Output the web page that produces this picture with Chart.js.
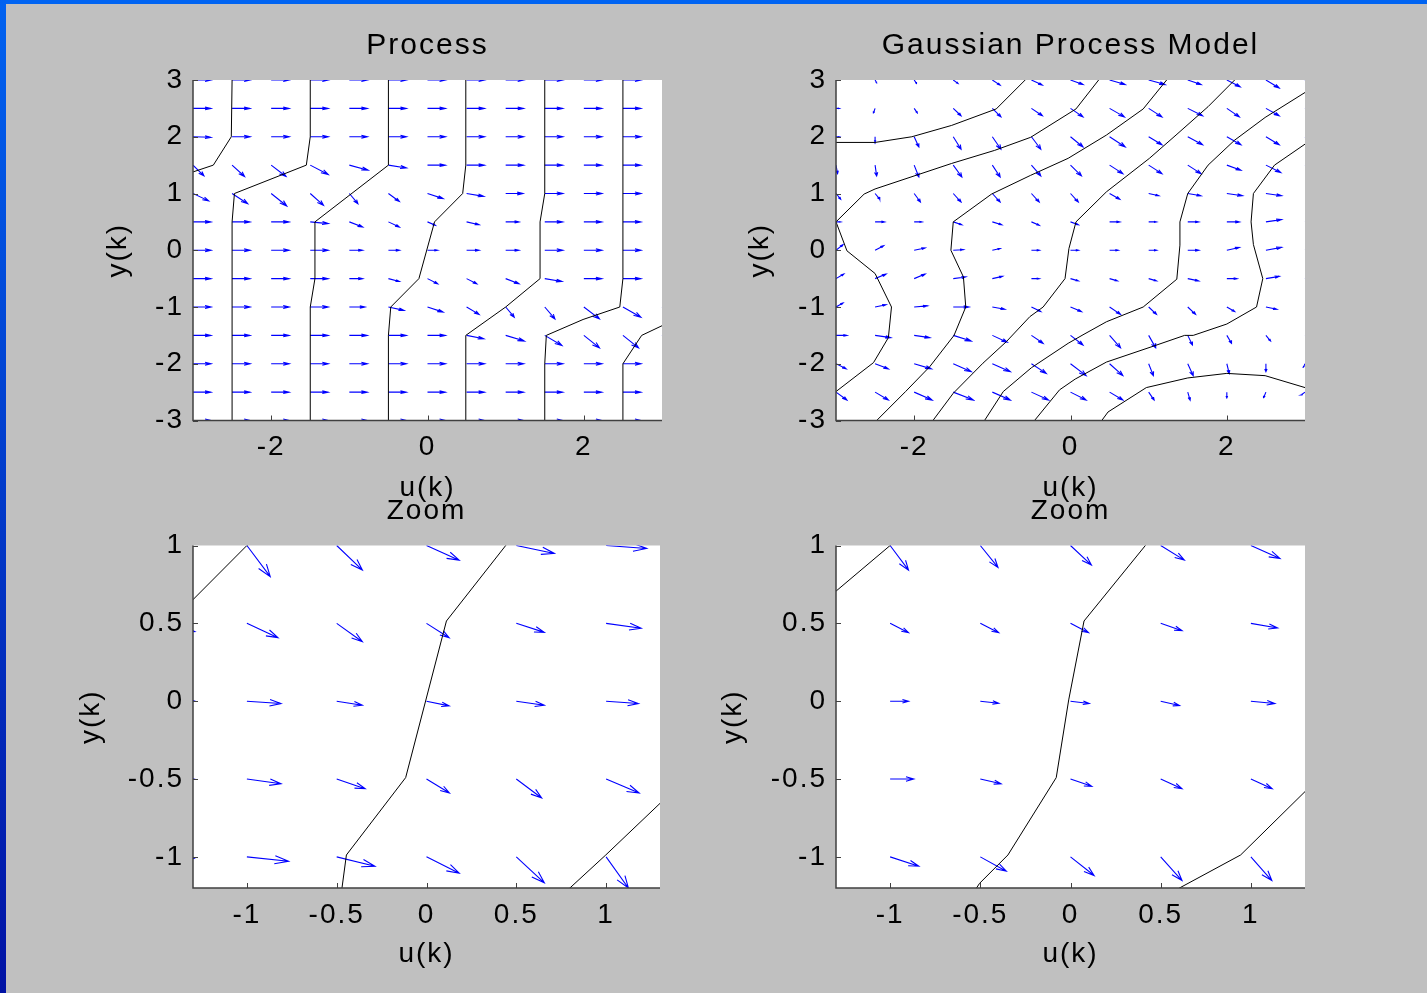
<!DOCTYPE html>
<html>
<head>
<meta charset="utf-8">
<script src="https://cdn.jsdelivr.net/npm/chart.js@4.4.1/dist/chart.umd.min.js"></script>
<style>
  html, body { margin: 0; padding: 0; }
  body { width: 1427px; height: 993px; background: #c0c0c0; position: relative; overflow: hidden; }
  #topBar { position: absolute; left: 0; top: 0; width: 1427px; height: 4px; background: #0064f2; }
  #leftBar { position: absolute; left: 0; top: 0; width: 6px; height: 993px; background: linear-gradient(#0062f0, #0012a4); }
  canvas { position: absolute; }
</style>
</head>
<body>
<div id="topBar"></div>
<div id="leftBar"></div>
<canvas id="c1"></canvas>
<canvas id="c2"></canvas>
<canvas id="c3"></canvas>
<canvas id="c4"></canvas>
<script>
// ---- data ----
const uGrid = [-3, -2.5, -2, -1.5, -1, -0.5, 0, 0.5, 1, 1.5, 2, 2.5, 3];
const yGrid = [3, 2.5, 2, 1.5, 1, 0.5, 0, -0.5, -1, -1.5, -2, -2.5, -3];
const uZoomProc = [-1.5, -1, -0.5, 0, 0.5, 1];
const uZoomGp = [-1, -0.5, 0, 0.5, 1];
const yZoom = [1, 0.5, 0, -0.5, -1];

const bigXTicks = [-2, 0, 2];
const bigYTicks = [-3, -2, -1, 0, 1, 2, 3];
const zoomXTicks = [-1, -0.5, 0, 0.5, 1];
const zoomYTicks = [-1, -0.5, 0, 0.5, 1];

// process vector field (rows follow yGrid, columns follow uGrid)
const procU = [
  [0.23, 0.23, 0.23, 0.23, 0.23, 0.23, 0.23, 0.23, 0.23, 0.23, 0.23, 0.23, 0.23],
  [0.23, 0.23, 0.23, 0.23, 0.23, 0.23, 0.23, 0.23, 0.23, 0.23, 0.23, 0.23, 0.23],
  [0.23, 0.23, 0.23, 0.23, 0.23, 0.23, 0.23, 0.23, 0.23, 0.23, 0.23, 0.23, 0.23],
  [0.14, 0.16, 0.19, 0.23, 0.24, 0.23, 0.23, 0.23, 0.23, 0.23, 0.23, 0.23, 0.23],
  [0.20, 0.20, 0.20, 0.17, 0.11, 0.14, 0.20, 0.22, 0.22, 0.23, 0.23, 0.23, 0.23],
  [0.23, 0.23, 0.23, 0.23, 0.17, 0.14, 0.10, 0.16, 0.17, 0.23, 0.23, 0.23, 0.23],
  [0.23, 0.23, 0.23, 0.23, 0.17, 0.14, 0.13, 0.16, 0.17, 0.23, 0.23, 0.23, 0.23],
  [0.23, 0.23, 0.23, 0.23, 0.17, 0.14, 0.13, 0.13, 0.17, 0.22, 0.23, 0.23, 0.23],
  [0.23, 0.23, 0.23, 0.23, 0.20, 0.20, 0.20, 0.16, 0.11, 0.13, 0.20, 0.23, 0.23],
  [0.23, 0.23, 0.23, 0.23, 0.23, 0.23, 0.23, 0.22, 0.24, 0.22, 0.20, 0.20, 0.20],
  [0.23, 0.23, 0.23, 0.23, 0.23, 0.23, 0.23, 0.23, 0.23, 0.23, 0.23, 0.23, 0.23],
  [0.23, 0.23, 0.23, 0.23, 0.23, 0.23, 0.23, 0.23, 0.23, 0.23, 0.23, 0.23, 0.23],
  [0.23, 0.23, 0.23, 0.23, 0.23, 0.23, 0.23, 0.23, 0.23, 0.23, 0.23, 0.23, 0.23]
];
const procV = [
  [0, 0, 0, 0, 0, 0, 0, 0, 0, 0, 0, 0, 0],
  [0, 0, 0, 0, 0, 0, 0, 0, 0, 0, 0, 0, 0],
  [-0.01, 0, 0, 0, 0, 0, 0, 0, 0, 0, 0, 0, 0],
  [-0.19, -0.20, -0.20, -0.165, -0.09, -0.05, 0, 0, 0, 0, 0, 0, 0],
  [-0.13, -0.18, -0.22, -0.21, -0.18, -0.14, -0.09, -0.05, 0, 0, 0, 0, 0],
  [0, 0, 0, -0.03, -0.09, -0.09, -0.06, -0.05, 0, 0, 0, 0, 0],
  [0, 0, 0, 0, 0, 0, 0, 0, 0, 0, 0, 0, 0],
  [0, 0, 0, 0, 0, -0.05, -0.09, -0.09, -0.09, -0.05, 0, 0, 0],
  [0, 0, 0, 0, 0, -0.06, -0.09, -0.13, -0.18, -0.21, -0.21, -0.18, -0.15],
  [0, 0, 0, 0, 0, 0, 0, -0.06, -0.10, -0.18, -0.22, -0.22, -0.20],
  [0, 0, 0, 0, 0, 0, 0, 0, 0, 0, 0, 0, 0],
  [0, 0, 0, 0, 0, 0, 0, 0, 0, 0, 0, 0, 0],
  [0, 0, 0, 0, 0, 0, 0, 0, 0, 0, 0, 0, 0]
];

// GP model vector field
const gpU = [
  [0.04, 0.02, 0.03, 0.06, 0.10, 0.14, 0.16, 0.20, 0.21, 0.17, 0.17, 0.17, 0.17],
  [0.04, -0.02, 0.04, 0.10, 0.11, 0.14, 0.16, 0.19, 0.17, 0.19, 0.16, 0.17, 0.10],
  [0.04, 0.00, 0.06, 0.10, 0.11, 0.12, 0.16, 0.20, 0.17, 0.19, 0.18, 0.17, 0.10],
  [0.02, 0.02, 0.06, 0.11, 0.10, 0.12, 0.14, 0.17, 0.17, 0.17, 0.18, 0.19, 0.12],
  [0.06, 0.06, 0.08, 0.10, 0.10, 0.10, 0.10, 0.13, 0.13, 0.17, 0.20, 0.20, 0.12],
  [0.06, 0.12, 0.10, 0.11, 0.12, 0.10, 0.10, 0.13, 0.10, 0.14, 0.16, 0.20, 0.12],
  [0.09, 0.11, 0.14, 0.13, 0.10, 0.10, 0.10, 0.11, 0.10, 0.14, 0.16, 0.20, 0.10],
  [0.10, 0.14, 0.14, 0.16, 0.13, 0.10, 0.10, 0.10, 0.10, 0.14, 0.13, 0.17, 0.10],
  [0.09, 0.14, 0.17, 0.20, 0.16, 0.12, 0.14, 0.14, 0.10, 0.10, 0.10, 0.14, 0.08],
  [0.14, 0.20, 0.20, 0.23, 0.19, 0.15, 0.16, 0.14, 0.09, 0.06, 0.06, 0.06, 0.03],
  [0.13, 0.17, 0.22, 0.23, 0.23, 0.19, 0.20, 0.17, 0.06, 0.07, 0.03, 0.00, -0.02],
  [0.14, 0.17, 0.23, 0.26, 0.23, 0.22, 0.20, 0.17, 0.07, 0.03, 0.00, -0.03, -0.05],
  [0.14, 0.17, 0.23, 0.26, 0.23, 0.22, 0.20, 0.17, 0.07, 0.03, 0.00, -0.03, -0.05]
];
const gpV = [
  [0, -0.05, -0.06, -0.06, -0.09, -0.09, -0.08, -0.08, -0.08, -0.08, -0.12, -0.14, -0.14],
  [0, -0.08, -0.08, -0.13, -0.15, -0.13, -0.15, -0.15, -0.15, -0.13, -0.15, -0.13, -0.08],
  [0, -0.09, -0.18, -0.22, -0.22, -0.22, -0.18, -0.18, -0.14, -0.14, -0.14, -0.14, -0.08],
  [-0.15, -0.19, -0.21, -0.21, -0.21, -0.19, -0.19, -0.15, -0.15, -0.15, -0.09, -0.13, -0.06],
  [-0.10, -0.10, -0.15, -0.15, -0.15, -0.15, -0.15, -0.10, -0.04, -0.04, -0.04, -0.04, -0.02],
  [0, 0, 0, -0.05, -0.05, -0.06, -0.05, 0, 0, 0, 0, 0.04, 0.03],
  [0.10, 0.08, 0.04, 0.01, 0.03, 0, 0, 0, 0, 0, 0.05, 0.05, 0.05],
  [0.08, 0.08, 0.08, 0.03, 0.04, 0, -0.04, -0.04, -0.04, -0.04, 0, 0.04, 0.05],
  [0.07, 0.04, 0.02, 0, -0.04, -0.08, -0.08, -0.13, -0.13, -0.13, -0.08, -0.04, 0],
  [0, -0.04, -0.04, -0.10, -0.12, -0.14, -0.17, -0.22, -0.22, -0.17, -0.14, -0.10, -0.01],
  [-0.09, -0.09, -0.09, -0.14, -0.14, -0.17, -0.21, -0.21, -0.21, -0.21, -0.17, -0.14, -0.06],
  [-0.14, -0.14, -0.14, -0.14, -0.14, -0.14, -0.14, -0.14, -0.14, -0.14, -0.10, -0.10, -0.05],
  [-0.14, -0.14, -0.14, -0.14, -0.14, -0.14, -0.14, -0.14, -0.14, -0.14, -0.10, -0.10, -0.05]
];

// zoomed fields
const zProcU = [
  [0.19, 0.130, 0.143, 0.182, 0.212, 0.226],
  [0.21, 0.173, 0.143, 0.126, 0.156, 0.195],
  [0.21, 0.190, 0.143, 0.126, 0.156, 0.180],
  [0.205, 0.190, 0.158, 0.128, 0.141, 0.184],
  [0.205, 0.232, 0.213, 0.182, 0.156, 0.124]
];
const zProcV = [
  [-0.10, -0.200, -0.158, -0.094, -0.051, -0.019],
  [-0.053, -0.092, -0.118, -0.092, -0.058, -0.032],
  [0, -0.015, -0.026, -0.030, -0.026, -0.015],
  [0, -0.030, -0.062, -0.090, -0.122, -0.090],
  [-0.01, -0.028, -0.060, -0.105, -0.167, -0.200]
];
const zGpU = [
  [0.102, 0.098, 0.116, 0.131, 0.161],
  [0.102, 0.102, 0.100, 0.118, 0.148],
  [0.102, 0.102, 0.104, 0.104, 0.133],
  [0.131, 0.115, 0.118, 0.118, 0.118],
  [0.159, 0.144, 0.131, 0.118, 0.116]
];
const zGpV = [
  [-0.158, -0.141, -0.126, -0.094, -0.083],
  [-0.060, -0.060, -0.060, -0.047, -0.030],
  [0, -0.013, -0.015, -0.028, -0.015],
  [0, -0.030, -0.047, -0.062, -0.062],
  [-0.060, -0.092, -0.120, -0.152, -0.152]
];

// contour polylines [u, y]
const procContours = [
  [[-3, 1.38], [-2.74, 1.5], [-2.51, 2], [-2.5, 3]],
  [[-2.5, -3], [-2.5, 0.5], [-2.47, 1], [-1.55, 1.5], [-1.5, 2], [-1.5, 3]],
  [[-1.5, -3], [-1.5, -1], [-1.44, -0.5], [-1.44, 0.5], [-0.5, 1.5], [-0.5, 3]],
  [[-0.5, -3], [-0.5, -1.5], [-0.47, -1], [-0.11, -0.5], [0.09, 0.5], [0.45, 1], [0.49, 1.5], [0.49, 3]],
  [[0.49, -3], [0.49, -1.5], [1.0, -1], [1.44, -0.5], [1.44, 0.5], [1.5, 1], [1.5, 3]],
  [[1.5, -3], [1.5, -2], [1.52, -1.5], [1.99, -1.22], [2.46, -1], [2.5, -0.5], [2.5, 3]],
  [[2.5, -3], [2.5, -2], [2.74, -1.5], [3, -1.33]]
];
const gpContours = [
  [[-3, 1.9], [-2.5, 1.9], [-2.03, 2.0], [-1.52, 2.2], [-0.95, 2.49], [-0.58, 3]],
  [[-3, -2.49], [-2.52, -1.98], [-2.33, -1.54], [-2.29, -1.0], [-2.5, -0.41], [-2.86, -0.01], [-3, 0.5],
   [-2.64, 0.99], [-2.5, 1.08], [-1.52, 1.53], [-0.97, 1.76], [-0.51, 1.99], [0.07, 2.49], [0.36, 3]],
  [[-2.48, -3], [-2.11, -2.49], [-1.8, -2.05], [-1.49, -1.5], [-1.34, -1.0], [-1.37, -0.47], [-1.53, 0],
   [-1.5, 0.5], [-1.01, 0.99], [-0.51, 1.32], [-0.03, 1.62], [0.46, 2.03], [0.93, 2.49], [1.23, 3]],
  [[-1.76, -3], [-1.5, -2.52], [-1.12, -1.99], [-0.82, -1.61], [-0.52, -1.17], [-0.35, -1.0], [-0.07, -0.5],
   [-0.02, 0.03], [0.07, 0.5], [0.46, 1.03], [1.01, 1.62], [1.35, 2.03], [1.76, 2.53], [2.1, 3]],
  [[-1.1, -3], [-0.86, -2.49], [-0.5, -2.07], [-0.03, -1.64], [0.16, -1.49], [0.46, -1.26], [0.93, -1.0],
   [1.36, -0.51], [1.4, 0.09], [1.4, 0.5], [1.5, 1.0], [1.76, 1.5], [2.1, 1.94], [2.49, 2.34], [3, 2.78]],
  [[-0.46, -3], [-0.14, -2.46], [0.06, -2.27], [0.46, -1.97], [1.06, -1.69], [1.46, -1.5], [1.57, -1.5],
   [2.0, -1.3], [2.38, -1.0], [2.46, -0.5], [2.34, 0.1], [2.31, 0.5], [2.34, 1.0], [2.61, 1.5], [3, 1.87]],
  [[0.4, -3], [0.48, -2.85], [0.97, -2.42], [1.5, -2.25], [2.0, -2.17], [2.49, -2.21], [3, -2.42]]
];
const zProcContours = [
  [[-1.44, 0.49], [-1.0, 1.0], [-0.55, 1.5]],
  [[-0.49, -1.35], [-0.472, -1.213], [-0.446, -0.988], [-0.116, -0.491], [0.111, 0.515], [0.441, 1.0], [0.6, 1.2]],
  [[0.65, -1.35], [0.786, -1.213], [0.998, -0.988], [1.324, -0.63], [1.5, -0.45]]
];
const zGpContours = [
  [[-1.44, 0.57], [-1.0, 1.0], [-0.8, 1.2]],
  [[-0.65, -1.4], [-0.531, -1.217], [-0.504, -1.17], [-0.347, -0.988], [-0.079, -0.491], [-0.01, 0.008],
   [0.075, 0.515], [0.415, 1.0], [0.55, 1.2]],
  [[0.45, -1.3], [0.577, -1.217], [0.943, -0.988], [1.313, -0.566], [1.5, -0.35]]
];

// ---- drawing ----
const FONT = "'Liberation Sans', Arial, sans-serif";
const TICK_SIZE = 28;

// each arrow: shaft, then the two barbs of the head (head sized in data units)
function quiverPoints(gx, gy, U, V) {
  const a = 0.33, b = 0.33, pts = [];
  gy.forEach((y, i) => gx.forEach((x, j) => {
    const u = U[i][j], v = V[i][j];
    const ex = x + u, ey = y + v;
    pts.push({x: x, y: y}, {x: ex, y: ey}, {x: ex, y: null});
    pts.push({x: ex - a * (u + b * v), y: ey - a * (v - b * u)}, {x: ex, y: ey},
             {x: ex - a * (u - b * v), y: ey - a * (v + b * u)}, {x: ex, y: null});
  }));
  return pts;
}

function contourPoints(lines) {
  const pts = [];
  lines.forEach(line => {
    line.forEach(p => pts.push({x: p[0], y: p[1]}));
    pts.push({x: line[line.length - 1][0], y: null});
  });
  return pts;
}

// white plot area, axis lines and inward tick marks
const framePlugin = {
  id: 'frame',
  beforeDraw(chart) {
    const ctx = chart.ctx, a = chart.chartArea;
    ctx.letterSpacing = '2px';
    ctx.save();
    ctx.fillStyle = '#ffffff';
    ctx.fillRect(a.left, a.top, a.right - a.left, a.bottom - a.top);
    ctx.restore();
  },
  afterDatasetsDraw(chart) {
    const ctx = chart.ctx, a = chart.chartArea;
    const xs = chart.scales.x, ys = chart.scales.y;
    ctx.save();
    ctx.strokeStyle = '#404040';
    ctx.lineWidth = 1.5;
    ctx.beginPath();
    ctx.moveTo(a.left, a.top);
    ctx.lineTo(a.left, a.bottom);
    ctx.lineTo(a.right, a.bottom);
    ctx.stroke();
    ctx.lineWidth = 1;
    ctx.beginPath();
    xs.ticks.forEach(t => {
      const px = Math.round(xs.getPixelForValue(t.value)) + 0.5;
      ctx.moveTo(px, a.bottom);
      ctx.lineTo(px, a.bottom - 5);
    });
    ys.ticks.forEach(t => {
      const py = Math.round(ys.getPixelForValue(t.value)) + 0.5;
      ctx.moveTo(a.left, py);
      ctx.lineTo(a.left + 5, py);
    });
    ctx.stroke();
    ctx.restore();
  }
};

function makePanel(p) {
  const lh = TICK_SIZE * 1.2;
  const tlh = p.titleSize * 1.2;
  const cl = Math.round(p.yTitleX - lh / 2);
  const ct = Math.round(p.titleY - tlh / 2);
  const W = p.box.l - cl;
  const padB = p.box.t - ct - tlh;
  const cw = Math.round(p.box.r + 12 - cl);
  const ch = Math.round(p.xTitleY + lh / 2 - ct);
  const H = ct + ch - p.box.b;

  const canvas = document.getElementById(p.id);
  canvas.width = cw;
  canvas.height = ch;
  canvas.style.left = cl + 'px';
  canvas.style.top = ct + 'px';
  canvas.style.width = cw + 'px';
  canvas.style.height = ch + 'px';

  const tickFont = {family: FONT, size: TICK_SIZE};
  return new Chart(canvas.getContext('2d'), {
    type: 'scatter',
    data: {
      datasets: [
        {
          data: contourPoints(p.contours),
          showLine: true, borderColor: '#000000', borderWidth: 1,
          pointRadius: 0, spanGaps: false, clip: 0
        },
        {
          data: quiverPoints(p.gx, p.gy, p.U, p.V),
          showLine: true, borderColor: '#0000ff', borderWidth: 1.1,
          pointRadius: 0, spanGaps: false, clip: 0
        }
      ]
    },
    options: {
      responsive: false,
      animation: false,
      devicePixelRatio: 1,
      events: [],
      layout: {padding: {left: 0, right: 12, top: 0, bottom: 0}},
      plugins: {
        legend: {display: false},
        tooltip: {enabled: false},
        title: {
          display: true, text: p.title, color: '#000000', fullSize: false,
          font: {family: FONT, size: p.titleSize, weight: 'normal'},
          padding: {top: 0, bottom: padB}
        }
      },
      scales: {
        x: {
          type: 'linear', min: p.xRange[0], max: p.xRange[1],
          grid: {display: false, drawTicks: false},
          border: {display: false},
          afterBuildTicks: s => { s.ticks = p.xTicks.map(v => ({value: v})); },
          afterFit: s => { s.height = H; },
          ticks: {autoSkip: false, maxRotation: 0, padding: 10, color: '#000000', font: tickFont,
                  callback: v => String(v)},
          title: {display: true, text: 'u(k)', color: '#000000', font: tickFont, padding: {top: 0, bottom: 0}}
        },
        y: {
          type: 'linear', min: p.yRange[0], max: p.yRange[1],
          grid: {display: false, drawTicks: false},
          border: {display: false},
          afterBuildTicks: s => { s.ticks = p.yTicks.map(v => ({value: v})); },
          afterFit: s => { s.width = W; },
          ticks: {autoSkip: false, padding: 9, color: '#000000', font: tickFont,
                  callback: v => String(v)},
          title: {display: true, text: 'y(k)', color: '#000000', font: tickFont, padding: {top: 0, bottom: 0}}
        }
      }
    },
    plugins: [framePlugin]
  });
}

const panels = [
  {id: 'c1', title: 'Process', titleSize: 30, titleY: 46, yTitleX: 118, xTitleY: 488,
   box: {l: 193, t: 80, r: 662, b: 420.5}, xRange: [-3, 3], yRange: [-3, 3],
   xTicks: bigXTicks, yTicks: bigYTicks, gx: uGrid, gy: yGrid, U: procU, V: procV, contours: procContours},
  {id: 'c2', title: 'Gaussian Process Model', titleSize: 30, titleY: 46, yTitleX: 760, xTitleY: 488,
   box: {l: 836, t: 80, r: 1305, b: 420.5}, xRange: [-3, 3], yRange: [-3, 3],
   xTicks: bigXTicks, yTicks: bigYTicks, gx: uGrid, gy: yGrid, U: gpU, V: gpV, contours: gpContours},
  {id: 'c3', title: 'Zoom', titleSize: 28, titleY: 511, yTitleX: 91, xTitleY: 954,
   box: {l: 193, t: 545.5, r: 660, b: 888}, xRange: [-1.3, 1.3], yRange: [-1.2, 1],
   xTicks: zoomXTicks, yTicks: zoomYTicks, gx: uZoomProc, gy: yZoom, U: zProcU, V: zProcV, contours: zProcContours},
  {id: 'c4', title: 'Zoom', titleSize: 28, titleY: 511, yTitleX: 733, xTitleY: 954,
   box: {l: 836, t: 545.5, r: 1305, b: 888}, xRange: [-1.3, 1.3], yRange: [-1.2, 1],
   xTicks: zoomXTicks, yTicks: zoomYTicks, gx: uZoomGp, gy: yZoom, U: zGpU, V: zGpV, contours: zGpContours}
];

panels.forEach(makePanel);
</script>
</body>
</html>
